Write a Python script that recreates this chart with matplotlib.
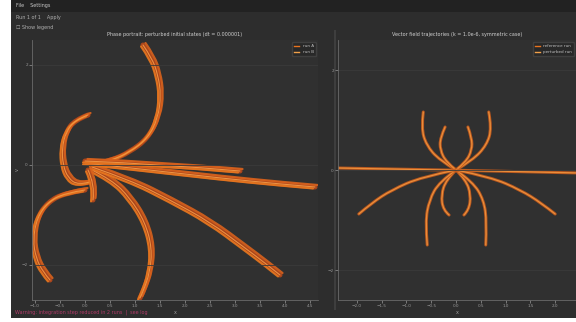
import matplotlib
matplotlib.use("Agg")
import matplotlib.pyplot as plt
from matplotlib.patches import Rectangle, PathPatch
from matplotlib.path import Path
import numpy as np

# trajectories, left panel (state space, perturbed runs)
traj_tall = [(1.16, 2.4), (1.34, 2.14), (1.46, 1.8), (1.52, 1.4), (1.46, 0.94),
             (1.26, 0.54), (0.9, 0.26), (0.5, 0.08), (0.14, 0.0)]
traj_loop = [(0.06, 1.0), (-0.2, 0.9), (-0.38, 0.66), (-0.46, 0.34), (-0.44, 0.0),
             (-0.34, -0.26), (-0.14, -0.4), (0.1, -0.34)]
traj_lowleft = [(0.0, -0.5), (-0.4, -0.56), (-0.74, -0.74), (-0.96, -1.06),
                (-1.04, -1.5), (-0.98, -1.86), (-0.84, -2.14), (-0.7, -2.3)]
traj_lowmid = [(0.14, -0.1), (0.54, -0.3), (0.9, -0.66), (1.2, -1.14), (1.34, -1.66),
               (1.3, -2.14), (1.16, -2.54), (1.1, -2.66)]
traj_diag = [(0.14, -0.04), (0.9, -0.3), (1.7, -0.7), (2.5, -1.14), (3.2, -1.66),
             (3.6, -1.96), (3.9, -2.2)]
traj_ray = [(0.0, 0.04), (1.3, -0.1), (2.7, -0.26), (3.9, -0.38), (4.6, -0.44)]
traj_ray2 = [(0.0, 0.08), (1.5, 0.02), (3.1, -0.12)]
traj_stub = [(0.06, -0.1), (0.2, -0.4), (0.16, -0.7)]
left_series = [traj_tall, traj_loop, traj_lowleft, traj_lowmid, traj_diag,
               traj_ray, traj_ray2, traj_stub]

# trajectories, right panel (symmetric case)
sym_axis = [(-2.4, 0.04), (0.0, 0.0), (2.5, -0.06)]
sym_up_outer_l = [(0.0, 0.0), (-0.34, 0.2), (-0.6, 0.5), (-0.7, 0.84), (-0.66, 1.16)]
sym_up_outer_r = [(0.0, 0.0), (0.34, 0.2), (0.62, 0.5), (0.72, 0.84), (0.66, 1.16)]
sym_up_inner_l = [(0.0, 0.0), (-0.2, 0.16), (-0.32, 0.4), (-0.32, 0.64), (-0.22, 0.86)]
sym_up_inner_r = [(0.0, 0.0), (0.2, 0.16), (0.32, 0.4), (0.32, 0.64), (0.24, 0.86)]
sym_dn_inner_l = [(0.0, 0.0), (-0.2, -0.2), (-0.3, -0.5), (-0.26, -0.8), (-0.14, -0.9)]
sym_dn_inner_r = [(0.0, 0.0), (0.2, -0.2), (0.3, -0.5), (0.26, -0.8), (0.16, -0.9)]
sym_dn_mid_l = [(0.0, 0.0), (-0.34, -0.24), (-0.54, -0.6), (-0.62, -1.04), (-0.58, -1.5)]
sym_dn_mid_r = [(0.0, 0.0), (0.34, -0.24), (0.56, -0.6), (0.62, -1.04), (0.6, -1.5)]
sym_dn_outer_l = [(0.0, 0.0), (-0.7, -0.14), (-1.3, -0.4), (-1.7, -0.66), (-1.96, -0.88)]
sym_dn_outer_r = [(0.0, 0.0), (0.7, -0.14), (1.3, -0.4), (1.72, -0.66), (2.0, -0.88)]
right_series = [sym_axis, sym_up_outer_l, sym_up_outer_r, sym_up_inner_l, sym_up_inner_r,
                sym_dn_inner_l, sym_dn_inner_r, sym_dn_mid_l, sym_dn_mid_r,
                sym_dn_outer_l, sym_dn_outer_r]

left_xticks = [-1.0, -0.5, 0.0, 0.5, 1.0, 1.5, 2.0, 2.5, 3.0, 3.5, 4.0, 4.5]
right_xticks = [-2.0, -1.5, -1.0, -0.5, 0.0, 0.5, 1.0, 1.5, 2.0]
yticks = [-2, 0, 2]

BG = "#2d2d2d"
AX_BG = "#303030"
FG = "#9a9a9a"
# strands of one bundle: (dx, dy, colour, width)
BUNDLE_WIDE = [(0.0, 0.0, "#b8481a", 3.6), (0.05, 0.04, "#d9621c", 1.6),
               (-0.04, -0.03, "#e8781f", 1.5), (0.0, 0.0, "#f39a45", 0.8)]
BUNDLE_THIN = [(0.0, 0.0, "#c45a1c", 2.2), (0.0, 0.0, "#f0953e", 0.9)]


def smooth_path(xy):
    # quadratic B-spline over the control points, drawn by Path.CURVE3
    if len(xy) < 3:
        return Path(xy)
    verts = [xy[0]]
    codes = [Path.MOVETO]
    for i in range(1, len(xy) - 1):
        mid = (xy[i] + xy[i + 1]) / 2 if i < len(xy) - 2 else xy[i + 1]
        verts += [xy[i], mid]
        codes += [Path.CURVE3, Path.CURVE3]
    return Path(verts, codes)


def draw_bundle(ax, pts, strands):
    xy = np.array(pts, dtype=float)
    for dx, dy, col, lw in strands:
        p = smooth_path(xy + [dx, dy])
        ax.add_patch(PathPatch(p, fill=False, edgecolor=col, lw=lw, alpha=0.9,
                               capstyle="round", joinstyle="round"))


def style_axes(ax, title):
    ax.set_facecolor(AX_BG)
    for s in ("top", "right"):
        ax.spines[s].set_visible(False)
    for s in ("left", "bottom"):
        ax.spines[s].set_color("#6a6a6a")
        ax.spines[s].set_linewidth(0.6)
    ax.tick_params(colors=FG, labelsize=3, length=2, width=0.5, pad=1)
    ax.grid(axis="y", color="#3a3a3a", lw=0.6)
    ax.set_title(title, color="#d0d0d0", fontsize=3.5, pad=3)


fig = plt.figure(figsize=(5.76, 3.22), dpi=100, facecolor="white")
fig.patches.append(Rectangle((11 / 576, 4 / 322), 1, 1, transform=fig.transFigure,
                             facecolor=BG, edgecolor="none", zorder=-2))
fig.patches.append(Rectangle((11 / 576, 310 / 322), 1, 12 / 322, transform=fig.transFigure,
                             facecolor="#222222", edgecolor="none", zorder=-1))
fig.patches.append(Rectangle((334 / 576, 12 / 322), 2 / 576, 280 / 322,
                             transform=fig.transFigure, facecolor="#3e3e3e",
                             edgecolor="none", zorder=-1))

# menu and toolbar
fig.text(16 / 576, 1 - 5 / 322, "File    Settings", color="#c8c8c8", fontsize=3.5, va="center")
fig.text(16 / 576, 1 - 17 / 322, "Run 1 of 1    Apply", color="#b0b0b0", fontsize=3.5, va="center")
fig.text(16 / 576, 1 - 27 / 322, "\u2610 Show legend", color="#b0b0b0", fontsize=3.5, va="center")

axl = fig.add_axes([32 / 576, 22 / 322, 286 / 576, 260 / 322])
style_axes(axl, "Phase portrait: perturbed initial states (dt = 0.000001)")
for pts in left_series:
    draw_bundle(axl, pts, BUNDLE_WIDE)
axl.set_xlim(-1.06, 4.66)
axl.set_ylim(-2.7, 2.5)
axl.set_xticks(left_xticks)
axl.set_yticks(yticks)
axl.set_xlabel("x", color=FG, fontsize=3.5, labelpad=1)
axl.set_ylabel("v", color=FG, fontsize=3.5, labelpad=1)
axl.plot([], [], color="#e8731e", lw=1, label="run A")
axl.plot([], [], color="#f0a04a", lw=1, label="run B")
axl.legend(loc="upper right", fontsize=3, facecolor="#262626", edgecolor="#444444",
           labelcolor="#c0c0c0", handlelength=1.2, borderpad=0.5)

axr = fig.add_axes([338 / 576, 22 / 322, 238 / 576, 260 / 322])
style_axes(axr, "Vector field trajectories (k = 1.0e-6, symmetric case)")
for pts in right_series:
    draw_bundle(axr, pts, BUNDLE_THIN)
axr.set_xlim(-2.38, 2.42)
axr.set_ylim(-2.6, 2.6)
axr.set_xticks(right_xticks)
axr.set_yticks(yticks)
axr.set_xlabel("x", color=FG, fontsize=3.5, labelpad=1)
axr.plot([], [], color="#e8731e", lw=1, label="reference run")
axr.plot([], [], color="#f0a04a", lw=1, label="perturbed run")
axr.legend(loc="upper right", fontsize=3, facecolor="#262626", edgecolor="#444444",
           labelcolor="#c0c0c0", handlelength=1.2, borderpad=0.5)

fig.text(15 / 576, 1 - 312 / 322, "Warning: integration step reduced in 2 runs  |  see log",
         color="#b03a68", fontsize=3.5, va="center")

fig.savefig("out.png", dpi=100, facecolor=fig.get_facecolor())
